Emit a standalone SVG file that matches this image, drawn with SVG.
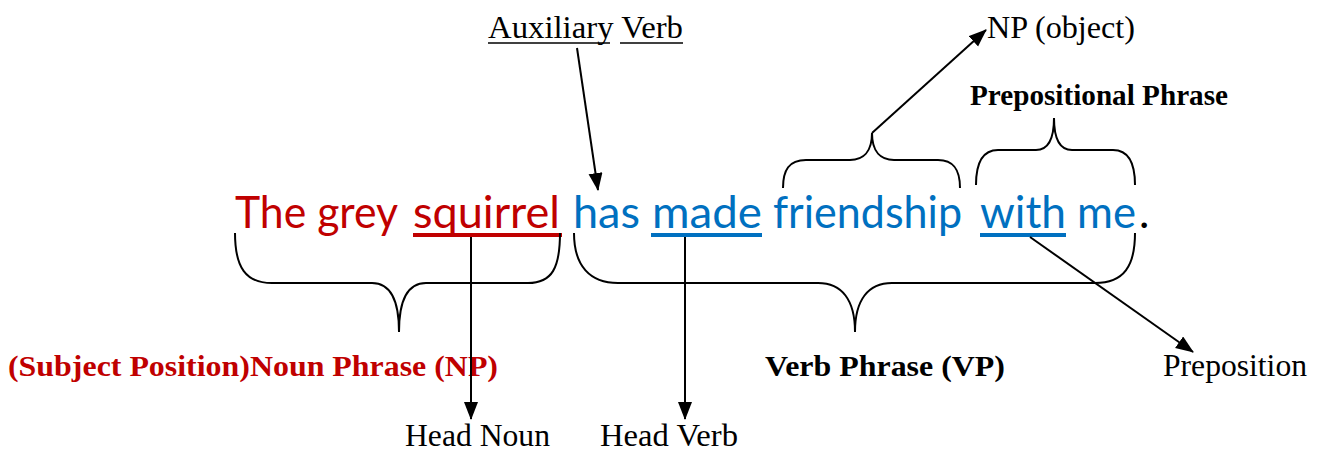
<svg xmlns="http://www.w3.org/2000/svg" width="1325" height="452" viewBox="0 0 1325 452">
<style>
.s{font-family:Lato,"Open Sans",sans-serif;font-size:44px}
.r{fill:#C00000}.b{fill:#0070C0}
.t{font-family:"Liberation Serif",serif;font-size:31px;fill:#000}
.tb{font-family:"Liberation Serif",serif;font-size:29px;font-weight:bold}
.br{fill:none;stroke:#000;stroke-width:2}
.ar{fill:none;stroke:#000;stroke-width:2;marker-end:url(#ah)}
</style>
<defs>
<marker id="ah" markerWidth="20" markerHeight="16" refX="17" refY="7" orient="auto" markerUnits="userSpaceOnUse">
<path d="M0,0 L18,7 L0,14 Z" fill="#000"/>
</marker>
</defs>
<rect width="1325" height="452" fill="#fff"/>
<g id="sentence">
<text class="s r" x="235" y="228" textLength="163" lengthAdjust="spacingAndGlyphs">The grey</text>
<text class="s r" x="413" y="228" textLength="147" lengthAdjust="spacingAndGlyphs">squirrel</text>
<rect x="413" y="233" width="149" height="4" fill="#C00000"/>
<text class="s b" x="573" y="228" textLength="67" lengthAdjust="spacingAndGlyphs">has</text>
<text class="s b" x="652" y="228" textLength="110" lengthAdjust="spacingAndGlyphs">made</text>
<rect x="651" y="233" width="111" height="4" fill="#0070C0"/>
<text class="s b" x="773" y="228" textLength="189" lengthAdjust="spacingAndGlyphs">friendship</text>
<text class="s b" x="980" y="228" textLength="86" lengthAdjust="spacingAndGlyphs">with</text>
<rect x="980" y="233" width="86" height="4" fill="#0070C0"/>
<text class="s b" x="1077" y="228" textLength="59" lengthAdjust="spacingAndGlyphs">me</text>
<text class="s" x="1139" y="228" fill="#000">.</text>
</g>
<g id="aux-verb">
<text class="t" x="488" y="38" textLength="195" lengthAdjust="spacingAndGlyphs">Auxiliary Verb</text>
<line x1="488" y1="43" x2="610" y2="43" stroke="#000" stroke-width="1.5"/>
<line x1="620" y1="43" x2="683" y2="43" stroke="#000" stroke-width="1.5"/>
</g>
<g id="np-object">
<text class="t" x="987" y="38" textLength="148" lengthAdjust="spacingAndGlyphs">NP (object)</text>
</g>
<g id="prep-phrase">
<text class="tb" x="970" y="105" textLength="258" lengthAdjust="spacingAndGlyphs">Prepositional Phrase</text>
</g>
<g id="subject-np">
<text class="tb" x="8" y="376" fill="#C00000" textLength="490" lengthAdjust="spacingAndGlyphs">(Subject Position)Noun Phrase (NP)</text>
</g>
<g id="vp">
<text class="tb" x="765" y="376" textLength="240" lengthAdjust="spacingAndGlyphs">Verb Phrase (VP)</text>
</g>
<g id="preposition">
<text class="t" x="1163" y="376" textLength="144" lengthAdjust="spacingAndGlyphs">Preposition</text>
</g>
<g id="head-noun">
<text class="t" x="405" y="446" textLength="145" lengthAdjust="spacingAndGlyphs">Head Noun</text>
</g>
<g id="head-verb">
<text class="t" x="600" y="446" textLength="138" lengthAdjust="spacingAndGlyphs">Head Verb</text>
</g>
<g id="braces">
<path class="br" d="M235,233 C235,268 246,283 272,283 L372,283 C390,283 399,300 399,332 C399,300 408,283 426,283 L528,283 C552,283 560,268 560,233"/>
<path class="br" d="M574,233 C574,266 590,283 618,283 L818,283 C842,283 855,300 855,332 C855,300 868,283 892,283 L1095,283 C1124,283 1135,266 1135,233"/>
<path class="br" d="M783,188 C783,170 789,160 806,160 L850,160 C863,160 872,152 872,133 C872,152 881,160 894,160 L938,160 C954,160 960,170 960,188"/>
<path class="br" d="M976,185 C976,164 982,150 998,150 L1036,150 C1048,150 1054,140 1054,118 C1054,140 1060,150 1072,150 L1113,150 C1129,150 1135,164 1135,185"/>
</g>
<g id="connectors">
<line class="ar" x1="577" y1="48" x2="598" y2="190"/>
<line class="ar" x1="872" y1="133" x2="986" y2="30"/>
<line class="ar" x1="1030" y1="237" x2="1193" y2="352"/>
<line class="ar" x1="471" y1="237" x2="471" y2="419"/>
<line class="ar" x1="685" y1="237" x2="685" y2="419"/>
</g>
</svg>
